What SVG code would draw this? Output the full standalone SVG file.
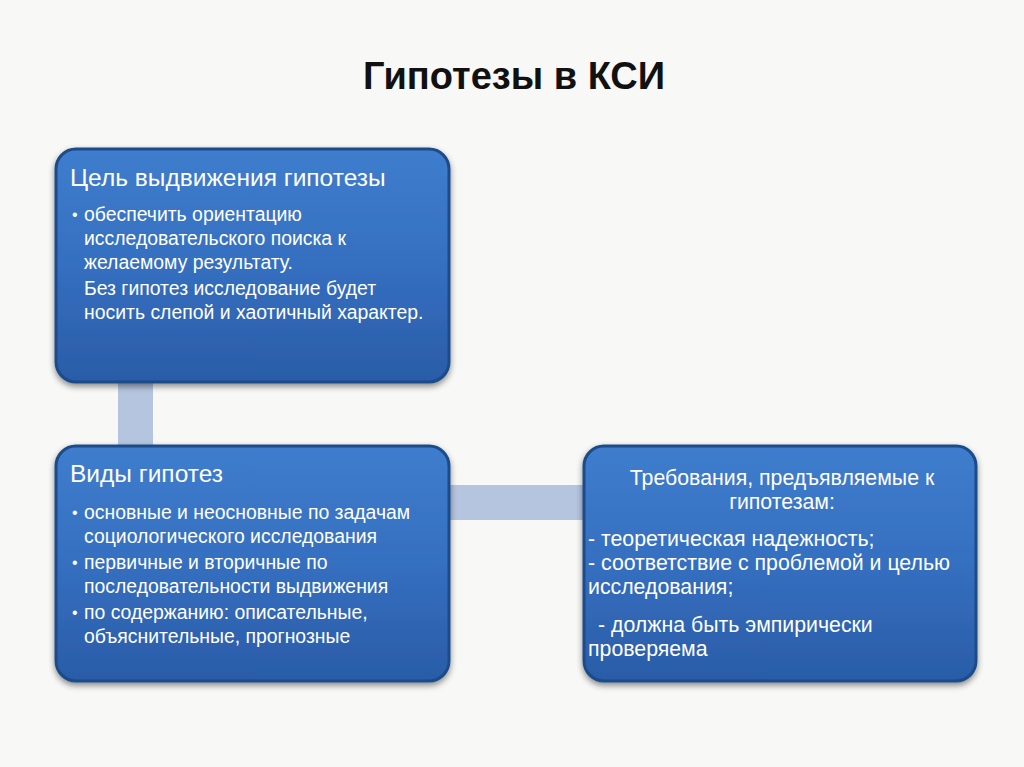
<svg xmlns="http://www.w3.org/2000/svg" width="1024" height="767" viewBox="0 0 1024 767">
<defs>
<linearGradient id="bg" x1="0" y1="0" x2="0" y2="1">
<stop offset="0" stop-color="#3f7dcd"/>
<stop offset="0.5" stop-color="#356fc0"/>
<stop offset="1" stop-color="#2a5ca7"/>
</linearGradient>
<filter id="sh" x="-10%" y="-10%" width="120%" height="125%">
<feDropShadow dx="0" dy="3" stdDeviation="3" flood-color="#000" flood-opacity="0.45"/>
</filter>
<style>
.box{fill:url(#bg);stroke:#1f4b8a;stroke-width:3;filter:url(#sh)}
.hd{font-family:"Liberation Sans",Arial,sans-serif;font-size:24.5px;fill:#ffffff}
.tx{font-family:"Liberation Sans",Arial,sans-serif;font-size:19.4px;fill:#ffffff}
.tx3{font-family:"Liberation Sans",Arial,sans-serif;font-size:21.3px;fill:#ffffff}
.bl{font-family:"Liberation Sans",Arial,sans-serif;font-size:16px;fill:#ffffff}
.title{font-family:"Liberation Sans",Arial,sans-serif;font-size:38px;font-weight:bold;fill:#111}
.con{fill:#b6c5df}
</style>
</defs>
<rect width="1024" height="767" fill="#f8f8f7"/>
<text class="title" x="514" y="89" text-anchor="middle">Гипотезы в КСИ</text>
<g id="connectors">
<rect class="con" x="118" y="380" width="35" height="68"/>
<rect class="con" x="447" y="485" width="139" height="35"/>
</g>
<g id="node1">
<rect class="box" x="56" y="149" width="393" height="233" rx="20"/>
<text class="hd" x="70" y="186">Цель выдвижения гипотезы</text>
<text class="bl" x="72" y="220">•</text>
<text class="tx" x="84" y="221">обеспечить ориентацию</text>
<text class="tx" x="84" y="245">исследовательского поиска к</text>
<text class="tx" x="84" y="269">желаемому результату.</text>
<text class="tx" x="84" y="295">Без гипотез исследование будет</text>
<text class="tx" x="84" y="319">носить слепой и хаотичный характер.</text>
</g>
<g id="node2">
<rect class="box" x="56" y="446" width="393" height="235" rx="20"/>
<text class="hd" x="70" y="482">Виды гипотез</text>
<text class="bl" x="72" y="518">•</text>
<text class="tx" x="84" y="519">основные и неосновные по задачам</text>
<text class="tx" x="84" y="543">социологического исследования</text>
<text class="bl" x="72" y="568">•</text>
<text class="tx" x="84" y="569">первичные и вторичные по</text>
<text class="tx" x="84" y="593">последовательности выдвижения</text>
<text class="bl" x="72" y="618">•</text>
<text class="tx" x="84" y="619">по содержанию: описательные,</text>
<text class="tx" x="84" y="643">объяснительные, прогнозные</text>
</g>
<g id="node3">
<rect class="box" x="584" y="446" width="392" height="235" rx="20"/>
<text class="tx3" x="782" y="485" text-anchor="middle">Требования, предъявляемые к</text>
<text class="tx3" x="782" y="509" text-anchor="middle">гипотезам:</text>
<text class="tx3" x="588" y="546">- теоретическая надежность;</text>
<text class="tx3" x="588" y="570">- соответствие с проблемой и целью</text>
<text class="tx3" x="588" y="594">исследования;</text>
<text class="tx3" x="598" y="632">- должна быть эмпирически</text>
<text class="tx3" x="588" y="656">проверяема</text>
</g>
</svg>
